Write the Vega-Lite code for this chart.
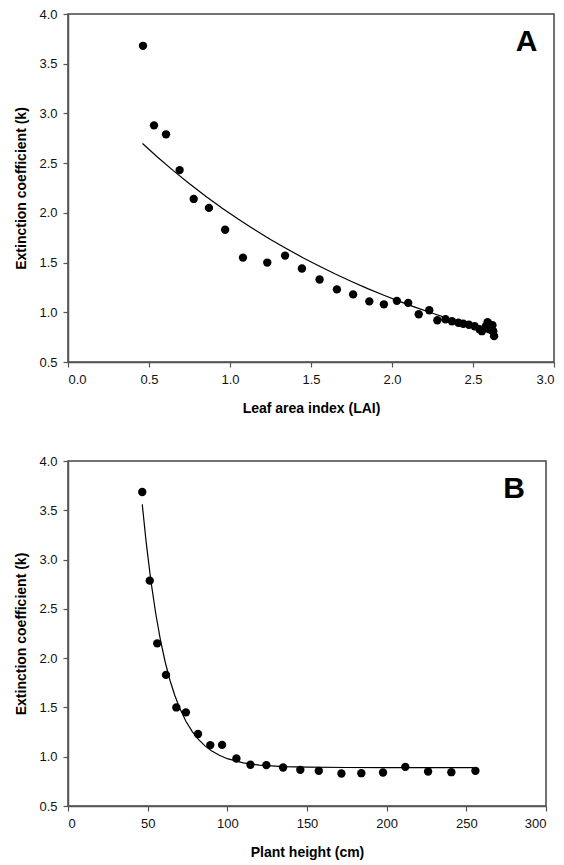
{
  "$schema": "https://vega.github.io/schema/vega-lite/v6.json",
  "background": "white",
  "padding": {"left": 14, "top": 7, "right": 0, "bottom": 0},
  "spacing": 38,
  "config": {
    "view": {"stroke": "#444", "strokeWidth": 1.5},
    "axis": {
      "grid": false,
      "domainColor": "#555",
      "domainWidth": 1.5,
      "tickColor": "#555",
      "tickWidth": 1.2,
      "tickSize": 5,
      "labelFont": "Liberation Sans",
      "labelFontSize": 13,
      "labelColor": "#111",
      "labelPadding": 6,
      "titleFont": "Liberation Sans",
      "titleFontSize": 14,
      "titleFontWeight": "bold",
      "titleColor": "#000"
    }
  },
  "datasets": {
    "lai_points": [
      {"lai": 0.463, "k": 3.68},
      {"lai": 0.531, "k": 2.88},
      {"lai": 0.605, "k": 2.79},
      {"lai": 0.689, "k": 2.43},
      {"lai": 0.776, "k": 2.14},
      {"lai": 0.87, "k": 2.05},
      {"lai": 0.97, "k": 1.83},
      {"lai": 1.08, "k": 1.55},
      {"lai": 1.23, "k": 1.5},
      {"lai": 1.34, "k": 1.57},
      {"lai": 1.444, "k": 1.44},
      {"lai": 1.553, "k": 1.33},
      {"lai": 1.66, "k": 1.23},
      {"lai": 1.76, "k": 1.18},
      {"lai": 1.86, "k": 1.11},
      {"lai": 1.95, "k": 1.08},
      {"lai": 2.03, "k": 1.115},
      {"lai": 2.1, "k": 1.095},
      {"lai": 2.165, "k": 0.98},
      {"lai": 2.23, "k": 1.02},
      {"lai": 2.28, "k": 0.92},
      {"lai": 2.33, "k": 0.93},
      {"lai": 2.37, "k": 0.91},
      {"lai": 2.41, "k": 0.895},
      {"lai": 2.44, "k": 0.885},
      {"lai": 2.475, "k": 0.875},
      {"lai": 2.51, "k": 0.86},
      {"lai": 2.54, "k": 0.83},
      {"lai": 2.555, "k": 0.81},
      {"lai": 2.58, "k": 0.86},
      {"lai": 2.59, "k": 0.9},
      {"lai": 2.6, "k": 0.88},
      {"lai": 2.61, "k": 0.845},
      {"lai": 2.615, "k": 0.82},
      {"lai": 2.625, "k": 0.81},
      {"lai": 2.63, "k": 0.76},
      {"lai": 2.6, "k": 0.83},
      {"lai": 2.62, "k": 0.87}
    ],
    "lai_fit": [
      {"lai": 0.46, "k": 2.697},
      {"lai": 0.55, "k": 2.565},
      {"lai": 0.65, "k": 2.425},
      {"lai": 0.75, "k": 2.293},
      {"lai": 0.85, "k": 2.168},
      {"lai": 0.95, "k": 2.05},
      {"lai": 1.05, "k": 1.938},
      {"lai": 1.15, "k": 1.833},
      {"lai": 1.25, "k": 1.733},
      {"lai": 1.35, "k": 1.639},
      {"lai": 1.45, "k": 1.549},
      {"lai": 1.55, "k": 1.465},
      {"lai": 1.65, "k": 1.385},
      {"lai": 1.75, "k": 1.31},
      {"lai": 1.85, "k": 1.238},
      {"lai": 1.95, "k": 1.171},
      {"lai": 2.05, "k": 1.107},
      {"lai": 2.15, "k": 1.047},
      {"lai": 2.25, "k": 0.99},
      {"lai": 2.35, "k": 0.936},
      {"lai": 2.45, "k": 0.885},
      {"lai": 2.55, "k": 0.837},
      {"lai": 2.63, "k": 0.8}
    ],
    "height_points": [
      {"h": 46.6, "k": 3.685},
      {"h": 51.3, "k": 2.786},
      {"h": 56.0, "k": 2.15},
      {"h": 61.5, "k": 1.83},
      {"h": 68.0, "k": 1.5},
      {"h": 74.0, "k": 1.45},
      {"h": 81.6, "k": 1.23},
      {"h": 89.3, "k": 1.118},
      {"h": 96.7, "k": 1.12},
      {"h": 105.7, "k": 0.982},
      {"h": 114.5, "k": 0.918},
      {"h": 124.5, "k": 0.915},
      {"h": 135.0, "k": 0.89},
      {"h": 145.8, "k": 0.867},
      {"h": 157.4, "k": 0.857},
      {"h": 171.6, "k": 0.83},
      {"h": 184.1, "k": 0.833},
      {"h": 197.7, "k": 0.84},
      {"h": 211.7, "k": 0.897},
      {"h": 226.0, "k": 0.85},
      {"h": 240.6, "k": 0.843},
      {"h": 255.7, "k": 0.857}
    ],
    "height_fit": [
      {"h": 46.6, "k": 3.56},
      {"h": 49, "k": 3.184},
      {"h": 52, "k": 2.787},
      {"h": 55, "k": 2.458},
      {"h": 58, "k": 2.186},
      {"h": 61, "k": 1.961},
      {"h": 64, "k": 1.776},
      {"h": 67, "k": 1.623},
      {"h": 70, "k": 1.496},
      {"h": 74, "k": 1.36},
      {"h": 78, "k": 1.255},
      {"h": 82, "k": 1.173},
      {"h": 86, "k": 1.11},
      {"h": 90, "k": 1.06},
      {"h": 95, "k": 1.014},
      {"h": 100, "k": 0.98},
      {"h": 110, "k": 0.938},
      {"h": 120, "k": 0.915},
      {"h": 135, "k": 0.9},
      {"h": 150, "k": 0.894},
      {"h": 175, "k": 0.8905},
      {"h": 200, "k": 0.89},
      {"h": 230, "k": 0.89},
      {"h": 255.7, "k": 0.89}
    ]
  },
  "vconcat": [
    {
      "width": 486,
      "height": 348,
      "layer": [
        {
          "data": {"name": "lai_fit"},
          "mark": {"type": "line", "color": "#000", "strokeWidth": 1.2},
          "encoding": {
            "x": {"field": "lai", "type": "quantitative",
                  "scale": {"domain": [0, 3], "nice": false, "zero": false},
                  "axis": {"title": "Leaf area index (LAI)", "values": [0, 0.5, 1, 1.5, 2, 2.5, 3], "format": ".1f", "titlePadding": 15}},
            "y": {"field": "k", "type": "quantitative",
                  "scale": {"domain": [0.5, 4], "nice": false, "zero": false},
                  "axis": {"title": "Extinction coefficient (k)", "values": [0.5, 1, 1.5, 2, 2.5, 3, 3.5, 4], "format": ".1f", "titlePadding": 10}}
          }
        },
        {
          "data": {"name": "lai_points"},
          "mark": {"type": "circle", "color": "#000", "opacity": 1, "size": 70},
          "encoding": {
            "x": {"field": "lai", "type": "quantitative"},
            "y": {"field": "k", "type": "quantitative"}
          }
        },
        {
          "data": {"values": [{"label": "A"}]},
          "mark": {"type": "text", "font": "Liberation Sans", "fontWeight": "bold", "fontSize": 30, "color": "#000", "baseline": "middle", "align": "center"},
          "encoding": {
            "x": {"datum": 2.83, "type": "quantitative"},
            "y": {"datum": 3.72, "type": "quantitative"},
            "text": {"field": "label"}
          }
        }
      ]
    },
    {
      "width": 478,
      "height": 345,
      "layer": [
        {
          "data": {"name": "height_fit"},
          "mark": {"type": "line", "color": "#000", "strokeWidth": 1.2},
          "encoding": {
            "x": {"field": "h", "type": "quantitative",
                  "scale": {"domain": [0, 300], "nice": false, "zero": false},
                  "axis": {"title": "Plant height (cm)", "values": [0, 50, 100, 150, 200, 250, 300], "format": "d", "titlePadding": 15}},
            "y": {"field": "k", "type": "quantitative",
                  "scale": {"domain": [0.5, 4], "nice": false, "zero": false},
                  "axis": {"title": "Extinction coefficient (k)", "values": [0.5, 1, 1.5, 2, 2.5, 3, 3.5, 4], "format": ".1f", "titlePadding": 10}}
          }
        },
        {
          "data": {"name": "height_points"},
          "mark": {"type": "circle", "color": "#000", "opacity": 1, "size": 70},
          "encoding": {
            "x": {"field": "h", "type": "quantitative"},
            "y": {"field": "k", "type": "quantitative"}
          }
        },
        {
          "data": {"values": [{"label": "B"}]},
          "mark": {"type": "text", "font": "Liberation Sans", "fontWeight": "bold", "fontSize": 30, "color": "#000", "baseline": "middle", "align": "center"},
          "encoding": {
            "x": {"datum": 280, "type": "quantitative"},
            "y": {"datum": 3.715, "type": "quantitative"},
            "text": {"field": "label"}
          }
        }
      ]
    }
  ]
}
